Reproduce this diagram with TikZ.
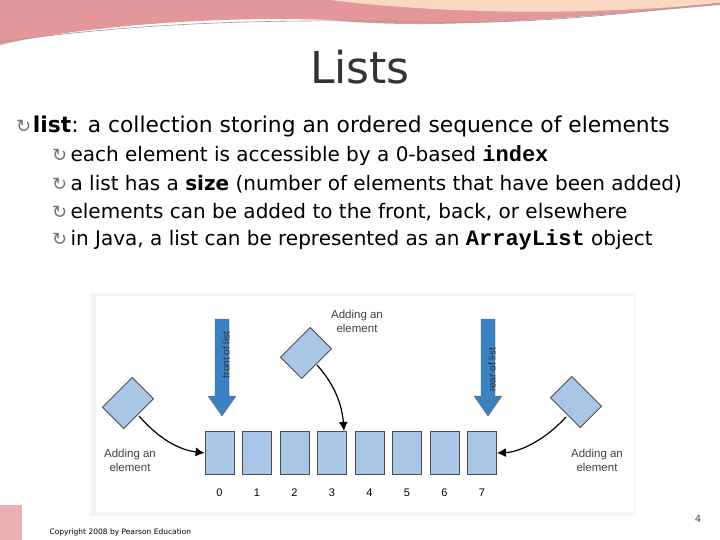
\documentclass[tikz,border=0pt]{standalone}
\usepackage{fontspec}
\usetikzlibrary{arrows.meta}
\setmainfont{DejaVu Sans}
\setsansfont{Liberation Sans}
\setmonofont{Liberation Mono}
\newcommand{\mybul}{{\color{black!55}\fontsize{18}{18}\selectfont ↻}}
\begin{document}
\begin{tikzpicture}[x=1pt,y=-1pt,
  box/.style={draw=black!70,fill=cellblue,minimum width=29pt,minimum height=43pt,inner sep=0,line width=0.8pt},
  dia/.style={draw=black!70,fill=cellblue,minimum width=42pt,minimum height=30pt,inner sep=0,line width=0.8pt},
  lab/.style={font=\sffamily\fontsize{11.5}{14}\selectfont,text=black!75,align=center},
  num/.style={font=\sffamily\fontsize{11}{12}\selectfont},
  arr/.style={-{Latex[length=9pt,width=9pt]},line width=1.2pt,black}]
\definecolor{cellblue}{RGB}{170,198,230}
\definecolor{arrblue}{RGB}{60,130,195}
\definecolor{swoosh}{RGB}{220,125,130}
\useasboundingbox (0,0) rectangle (720,540);
\fill[white] (0,0) rectangle (720,540);
% header
\fill[swoosh!80] (0,0) -- (720,0) -- (720,5) .. controls (550,20) and (430,30) .. (330,20) .. controls (200,15) and (60,30) .. (0,45) -- cycle;
\fill[swoosh!40!orange!30] (330,0) -- (720,0) -- (720,3) .. controls (600,15) and (450,15) .. (330,0);
\draw[black!40,line width=0.6pt] (0,42) .. controls (120,25) and (250,18) .. (420,22) .. controls (550,25) and (650,10) .. (720,3);
% title
\node (title) at (360,67) {\fontsize{44}{48}\selectfont\color{black!80}Lists};
% bullets
\node[anchor=west,inner sep=0] (b0) at (16,126) {\mybul\,\fontsize{21.8}{24}\selectfont\textbf{list}: a collection storing an ordered sequence of elements};
\begin{scope}[every node/.style={anchor=west,inner sep=0,font=\fontsize{20}{22}\selectfont}]
\node (b1) at (52,156) {\mybul\,each element is accessible by a 0-based \texttt{\textbf{\fontsize{22}{22}\selectfont index}}};
\node (b2) at (52,184) {\mybul\,a list has a \textbf{size} (number of elements that have been added)};
\node (b3) at (52,212) {\mybul\,elements can be added to the front, back, or elsewhere};
\node (b4) at (52,240) {\mybul\,in Java, a list can be represented as an \texttt{\textbf{\fontsize{22}{22}\selectfont ArrayList}} object};
\end{scope}
% figure area
\fill[black!4] (90,293) rectangle (636,516);
\fill[white] (96,296) rectangle (634,512);
\foreach \i in {0,...,7}{
  \node[box] (c\i) at ({219.5+37.5*\i},453) {};
  \node[num] (n\i) at ({219.5+37.5*\i},493) {\i};
}
% big arrows
\fill[arrblue,draw=black!60] (215,319) -- (229,319) -- (229,396) -- (236,396) -- (222,416) -- (208,396) -- (215,396) -- cycle;
\node[rotate=90,lab,font=\sffamily\fontsize{10}{11}\selectfont,text=black!80] (fl) at (226,355) {front of list};
\fill[arrblue,draw=black!60] (481,319) -- (495,319) -- (495,396) -- (502,396) -- (488,416) -- (474,396) -- (481,396) -- cycle;
\node[rotate=90,lab,font=\sffamily\fontsize{10}{11}\selectfont,text=black!80] (rl) at (492,370) {rear of list};
% diamonds
\node[dia,rotate=45] (dL) at (128,403) {};
\node[dia,rotate=45] (dM) at (306,353) {};
\node[dia,rotate=-45] (dR) at (576,402) {};
\coordinate (eL) at (139,416);
\coordinate (eM) at (317,365);
\coordinate (eR) at (566,417);
\draw[arr] (eL) .. controls (160,440) and (180,450) .. (c0.west);
\draw[arr] (eM) .. controls (335,385) and (342,405) .. (344,431);
\draw[arr] (eR) .. controls (545,440) and (520,452) .. (c7.east);
\node[lab] (aL) at (130,460) {Adding an\\element};
\node[lab] (aM) at (357,321) {Adding an\\element};
\node[lab] (aR) at (597,460) {Adding an\\element};
% footer
\node[anchor=west,font=\fontsize{7.5}{8}\selectfont] (copy) at (46,532) {Copyright 2008 by Pearson Education};
\node[font=\fontsize{10}{11}\selectfont,text=black!70] (pg) at (698,519) {4};
\fill[swoosh!60] (0,505) rectangle (22,540);
\end{tikzpicture}
\end{document}
